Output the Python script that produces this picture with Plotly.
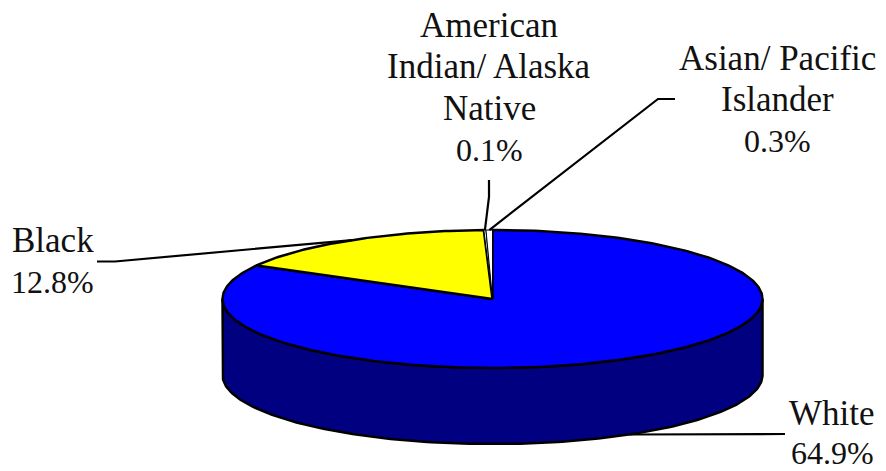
import numpy as np
import plotly.graph_objects as go

# Data (share of the listed groups, in percent; clockwise from 12 o'clock)
groups = ["White", "Black", "American Indian/Alaska Native", "Asian/ Pacific Islander"]
values = [64.9, 12.8, 0.1, 0.3]
labels = [["White", "64.9%"], ["Black", "12.8%"],
          ["American", "Indian/ Alaska", "Native", "0.1%"],
          ["Asian/ Pacific", "Islander", "0.3%"]]

colors = ["#0000FF", "#FFFF00", "#CCFFFF", "#FFFFFF"]
side_color = "#000080"
line_color = "#000000"
text_color = "#111111"
FONT = "Liberation Serif"
FS = 35
FS_PCT = 32

# Pie geometry (axes are in page pixels)
CX, CY, RX, RY, DEPTH = 492.5, 299, 270, 69, 76
LW = 2.5


def rim(frac, drop=0):
    a = 2 * np.pi * np.asarray(frac)
    return CX + RX * np.sin(a), CY - RY * np.cos(a) + drop


fig = go.Figure()

# Front wall
t = np.linspace(0.25, 0.75, 200)
x1, y1 = rim(t)
x2, y2 = rim(t[::-1], DEPTH)
fig.add_trace(go.Scatter(x=np.r_[x1, x2, x1[0]], y=np.r_[y1, y2, y1[0]], mode="lines",
                         fill="toself", fillcolor=side_color,
                         line=dict(color=line_color, width=LW), hoverinfo="skip"))

# Top face wedges
fr = np.cumsum([0] + values) / sum(values)
mids = (fr[:-1] + fr[1:]) / 2
for i, g in enumerate(groups):
    n = max(3, int((fr[i + 1] - fr[i]) * 400))
    t = np.linspace(fr[i], fr[i + 1], n)
    x, y = rim(t)
    fig.add_trace(go.Scatter(x=np.r_[CX, x, CX], y=np.r_[CY, y, CY], mode="lines", name=g,
                             fill="toself", fillcolor=colors[i],
                             line=dict(color=line_color, width=LW if i < 2 else 1),
                             hoverinfo="skip"))

# Leader lines: from the middle of each wedge's rim to its label
mx, my = rim(mids)
leaders = [
    ([785, 640, mx[0]], [434, 434, my[0] + DEPTH]),
    ([97, 115, mx[1]], [261.5, 261.5, my[1]]),
    ([489, 489, mx[2]], [180, 197, my[2]]),
    ([675, 658, mx[3]], [99, 99, my[3]]),
]
for lx, ly in leaders:
    fig.add_trace(go.Scatter(x=lx, y=ly, mode="lines",
                             line=dict(color=line_color, width=2.2), hoverinfo="skip"))

# Labels, one line at a time: (x, first-line y, line spacing)
anchors = [(832, 413, 39.5), (52.5, 240, 41.5), (489, 25, 41.5), (777, 58, 41.5)]
for lines, (ax, ay, dy) in zip(labels, anchors):
    for k, s in enumerate(lines):
        size = FS_PCT if s.endswith("%") else FS
        fig.add_annotation(x=ax, y=ay + k * dy, text=s, showarrow=False,
                           xanchor="center", yanchor="middle",
                           font=dict(family=FONT, size=size, color=text_color))

fig.update_layout(width=886, height=471, margin=dict(l=0, r=0, t=0, b=0),
                  paper_bgcolor="white", plot_bgcolor="white", showlegend=False,
                  xaxis=dict(range=[0, 886], visible=False, fixedrange=True),
                  yaxis=dict(range=[471, 0], visible=False, fixedrange=True))
fig.write_html("out.html", config={"displayModeBar": False},
               post_script="document.body.style.margin='0';document.documentElement.style.overflow='hidden';")
